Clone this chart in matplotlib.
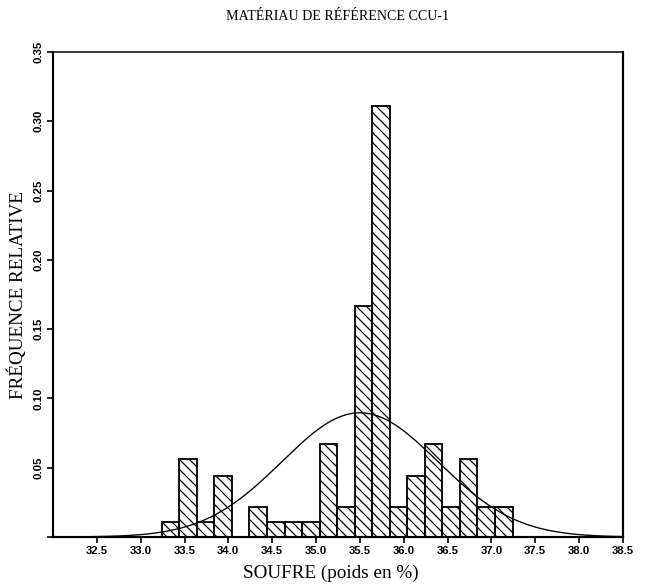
import numpy as np
import matplotlib
matplotlib.use("Agg")
import matplotlib.pyplot as plt

# ---- data ----
bin_centers = [33.34, 33.54, 33.74, 33.94, 34.14, 34.34, 34.54, 34.74, 34.94, 35.14,
               35.34, 35.54, 35.74, 35.94, 36.14, 36.34, 36.54, 36.74, 36.94, 37.14]
rel_freq = [0.011, 0.056, 0.011, 0.044, 0.0, 0.022, 0.011, 0.011, 0.011, 0.067,
            0.022, 0.167, 0.311, 0.022, 0.044, 0.067, 0.022, 0.056, 0.022, 0.022]
bin_width = 0.2
fit_mean = 35.5
fit_sd = 0.89
x_ticks = [32.5, 33.0, 33.5, 34.0, 34.5, 35.0, 35.5, 36.0, 36.5, 37.0, 37.5, 38.0, 38.5]
x_tick_labels = ["32.5", "33.0", "33.5", "34.0", "34.5", "35.0", "35.5",
                 "36.0", "36.5", "37.0", "37.5", "38.0", "38.5"]
y_ticks = [0.0, 0.05, 0.10, 0.15, 0.20, 0.25, 0.30, 0.35]
y_tick_labels = ["", "0.05", "0.10", "0.15", "0.20", "0.25", "0.30", "0.35"]
title = "MATÉRIAU DE RÉFÉRENCE CCU-1"
xlabel = "SOUFRE (poids en %)"
ylabel = "FRÉQUENCE RELATIVE"

DPI = 120
plt.rcParams["hatch.linewidth"] = 0.75
fig = plt.figure(figsize=(657 / DPI, 584 / DPI), dpi=DPI)
ax = fig.add_axes([53 / 657, 1 - 537 / 584, (623 - 53) / 657, (537 - 52) / 584])

serif = ["Liberation Serif", "DejaVu Serif"]
tickfont = ["Liberation Sans Narrow", "Liberation Sans", "DejaVu Sans"]

ax.bar(bin_centers, rel_freq, width=bin_width, fill=False, edgecolor="black",
       linewidth=1.1, hatch="\\\\\\\\", zorder=2)

xs = np.linspace(32.0, 38.5, 600)
curve = bin_width * np.exp(-0.5 * ((xs - fit_mean) / fit_sd) ** 2) / (fit_sd * np.sqrt(2 * np.pi))
ax.plot(xs, curve, color="black", linewidth=0.8, zorder=3)

ax.set_xlim(32.0, 38.5)
ax.set_ylim(0, 0.35)
ax.set_xticks(x_ticks)
ax.set_xticklabels(x_tick_labels, family=tickfont, fontsize=6.8, fontweight="bold")
ax.set_yticks(y_ticks)
ax.set_yticklabels(y_tick_labels, family=tickfont, fontsize=6.8, fontweight="bold",
                   rotation=90, va="center")
ax.tick_params(axis="both", direction="out", length=3.5, width=1.0, colors="black")
ax.tick_params(axis="x", pad=2)
ax.tick_params(axis="y", pad=2)

for side in ["left", "right", "bottom"]:
    ax.spines[side].set_linewidth(1.3)
ax.spines["top"].set_linewidth(0.9)

fig.text(338 / 657, 1 - 17 / 584, title, family=serif, fontsize=8.4,
         ha="center", va="center")
fig.text(331 / 657, 1 - 573 / 584, xlabel, family=serif, fontsize=11.5,
         ha="center", va="center")
fig.text(17 / 657, 1 - 295 / 584, ylabel, family=serif, fontsize=11.5,
         ha="center", va="center", rotation=90)

fig.savefig("out.png", dpi=DPI)
